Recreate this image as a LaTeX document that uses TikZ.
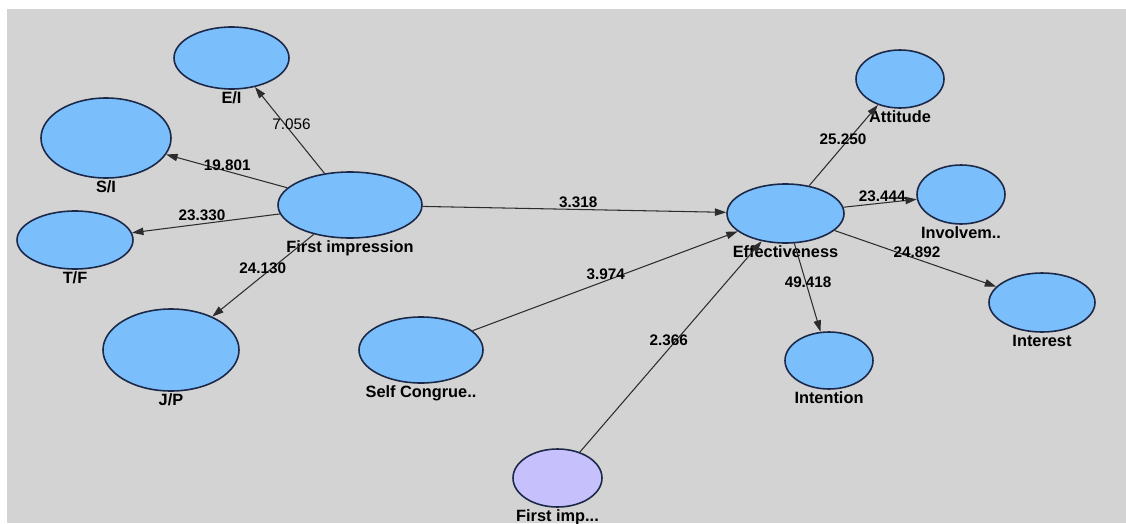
\documentclass[tikz,border=0pt]{standalone}
\usepackage{fontspec}
\setmainfont{Liberation Sans}
\usetikzlibrary{shapes.geometric, arrows.meta}
\definecolor{grund}{RGB}{211,211,211}
\definecolor{lvblau}{RGB}{122,190,252}
\definecolor{lvlila}{RGB}{198,192,252}
\definecolor{rand}{RGB}{28,40,72}
\definecolor{pfad}{RGB}{45,45,45}

\begin{document}
\begin{tikzpicture}[x=0.02cm, y=-0.02cm,
    lv/.style={ellipse, draw=rand, line width=0.9pt, fill=lvblau, inner sep=0pt},
    lvname/.style={font=\bfseries\fontsize{9.3}{11}\selectfont, anchor=base, label distance=7.8pt, inner sep=0pt},
    pfeil/.style={draw=pfad, line width=0.6pt, -{Triangle[length=6.5pt,width=4.2pt]}},
    wert/.style={font=\bfseries\fontsize{8.7}{10}\selectfont, inner sep=0pt}]

    \useasboundingbox (0,0) rectangle (1126,524);
    \fill[grund] (7,9) rectangle (1126,523);

    % linke Seite
    \node[lv, minimum width=144*0.02cm, minimum height=66*0.02cm, label={[lvname]below:First impression}] (fi) at (350,205) {};
    \node[lv, minimum width=115*0.02cm, minimum height=62*0.02cm, label={[lvname]below:E/I}] (ei) at (231.5,58) {};
    \node[lv, minimum width=130*0.02cm, minimum height=80*0.02cm, label={[lvname]below:S/I}] (si) at (106,138) {};
    \node[lv, minimum width=116*0.02cm, minimum height=58*0.02cm, label={[lvname]below:T/F}] (tf) at (75,240) {};
    \node[lv, minimum width=136*0.02cm, minimum height=82*0.02cm, label={[lvname]below:J/P}] (jp) at (171,350) {};
    \node[lv, minimum width=124*0.02cm, minimum height=66*0.02cm, label={[lvname]below:Self Congrue..}] (sc) at (421,350) {};
    \node[lv, fill=lvlila, minimum width=89*0.02cm, minimum height=58*0.02cm, label={[lvname]below:First imp...}] (fp) at (557.5,478) {};

    % rechte Seite
    \node[lv, minimum width=117*0.02cm, minimum height=59*0.02cm, label={[lvname]below:Effectiveness}] (eff) at (785.5,213.5) {};
    \node[lv, minimum width=88*0.02cm, minimum height=58*0.02cm, label={[lvname]below:Attitude}] (att) at (900,79) {};
    \node[lv, minimum width=88*0.02cm, minimum height=59*0.02cm, label={[lvname]below:Involvem..}] (inv) at (961,194.5) {};
    \node[lv, minimum width=106*0.02cm, minimum height=59*0.02cm, label={[lvname]below:Interest}] (intr) at (1042,302.5) {};
    \node[lv, minimum width=88*0.02cm, minimum height=57*0.02cm, label={[lvname]below:Intention}] (inten) at (829,360.5) {};

    \draw[pfeil] (fi) -- node[wert, font=\fontsize{8.7}{10}\selectfont, pos=.53, shift={(3.8,-3.1)}] {7.056} (ei);
    \draw[pfeil] (fi) -- node[wert, pos=.51, shift={(1.6,-5.8)}] {19.801} (si);
    \draw[pfeil] (fi) -- node[wert, pos=.52, shift={(-1,-8.2)}] {23.330} (tf);
    \draw[pfeil] (fi) -- node[wert, pos=.466, shift={(-3.7,-4.5)}] {24.130} (jp);
    \draw[pfeil] (fi) -- node[wert, pos=.512, shift={(0,-7.3)}] {3.318} (eff);
    \draw[pfeil] (sc) -- node[wert, pos=.511, shift={(-2.3,-6.2)}] {3.974} (eff);
    \draw[pfeil] (fp) -- node[wert, pos=.512, shift={(-4.2,-3.6)}] {2.366} (eff);

    \draw[pfeil] (eff) -- node[wert, pos=.54, shift={(-3.3,-2.9)}] {25.250} (att);
    \draw[pfeil] (eff) -- node[wert, pos=.537, shift={(-0.7,-6.3)}] {23.444} (inv);
    \draw[pfeil] (eff) -- node[wert, pos=.496, shift={(2.3,-6.6)}] {24.892} (intr);
    \draw[pfeil] (eff) -- node[wert, pos=.45, shift={(2,-0.6)}] {49.418} (inten);

\end{tikzpicture}
\end{document}
